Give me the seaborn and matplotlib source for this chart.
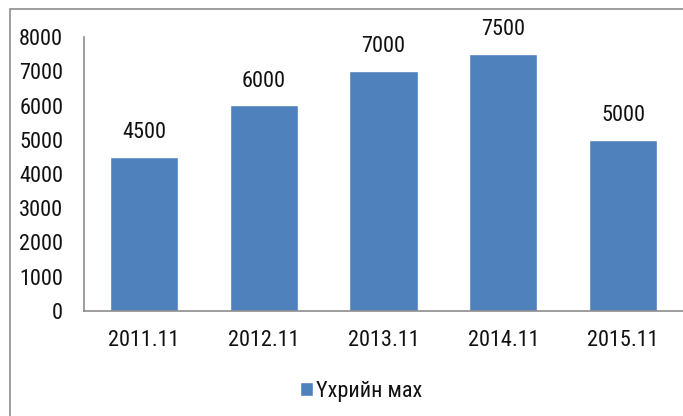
import matplotlib
matplotlib.use("Agg")
import matplotlib.pyplot as plt
import seaborn as sns
from matplotlib.patches import Rectangle

# data
periods = ["2011.11", "2012.11", "2013.11", "2014.11", "2015.11"]
beef_prices = [4500, 6000, 7000, 7500, 5000]
series_name = "Үхрийн мах"

sns.set_style("white")
plt.rcParams["font.family"] = ["Roboto Condensed", "DejaVu Sans"]

fig = plt.figure(figsize=(6.83, 4.16), dpi=100)

# outer chart frame (runs off the right and bottom edges)
fig.patches.append(Rectangle((10 / 683, -0.05), 1.2, 1 - 9 / 416 + 0.05,
                             transform=fig.transFigure, fill=False,
                             edgecolor="#8c8c8c", linewidth=1.2))

ax = fig.add_axes([84 / 683, 1 - 311 / 416, 1 - 84 / 683, (311 - 37) / 416])

sns.barplot(x=periods, y=beef_prices, color="#4F81BD", width=0.57,
            saturation=1, ax=ax, label=series_name)

ax.set_ylim(0, 8000)
ax.set_xlim(-0.5, 4.5)
ax.set_yticks(range(0, 8001, 1000))
ax.tick_params(axis="both", labelsize=16, length=0, labelcolor="#111111")
ax.tick_params(axis="y", pad=15)
ax.tick_params(axis="x", pad=14)
ax.set_xlabel("")
ax.set_ylabel("")

for s in ["top", "right"]:
    ax.spines[s].set_visible(False)
for s in ["left", "bottom"]:
    ax.spines[s].set_color("#8c8c8c")
    ax.spines[s].set_linewidth(1.2)

for i, v in enumerate(beef_prices):
    ax.annotate(f"{v}", (i, v), xytext=(0, 10), textcoords="offset points",
                ha="center", va="bottom", fontsize=16, color="#111111")

handles, labels = ax.get_legend_handles_labels()
leg = fig.legend(handles, labels, loc="center", bbox_to_anchor=(361 / 683, 1 - 391 / 416),
                 frameon=False, fontsize=16, handlelength=0.6, handleheight=0.6,
                 handletextpad=0.1)
for t in leg.get_texts():
    t.set_color("#111111")
if ax.get_legend():
    ax.get_legend().remove()

fig.savefig("out.png", dpi=100)
